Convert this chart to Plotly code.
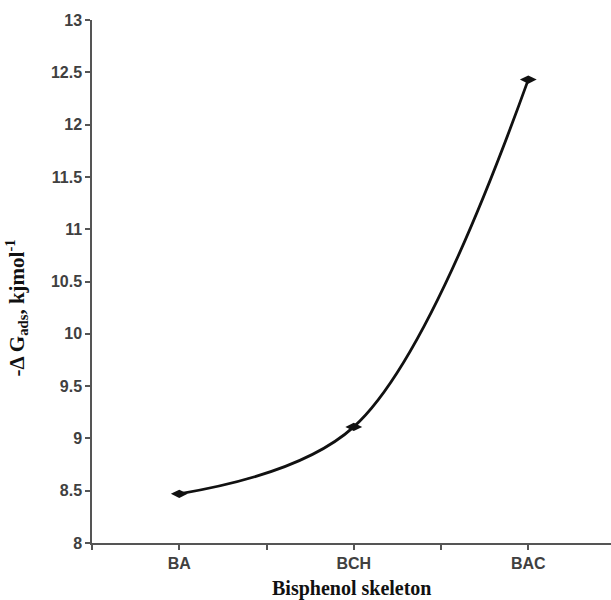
import plotly.graph_objects as go

categories = ["BA", "BCH", "BAC"]
values = [8.47, 9.11, 12.43]
y_ticks = [8, 8.5, 9, 9.5, 10, 10.5, 11, 11.5, 12, 12.5, 13]

xpos = list(range(len(categories)))

fig = go.Figure()
fig.add_trace(go.Scatter(
    x=xpos, y=values, mode="lines+markers",
    line=dict(color="#111111", width=2.8, shape="spline", smoothing=1.0),
    marker=dict(symbol="diamond-wide", size=12, color="#111111"),
    showlegend=False,
))

tick_font = dict(family="Liberation Sans, Arial, sans-serif", size=16, color="#404040", weight="bold")
fig.update_layout(
    width=611, height=600,
    margin=dict(l=92, r=0, t=20, b=57),
    paper_bgcolor="white", plot_bgcolor="white",
    xaxis=dict(
        range=[-0.5, 2.474], tickvals=xpos, ticktext=categories,
        showline=True, linecolor="#555555", linewidth=1.5,
        ticks="outside", ticklen=5, tickcolor="#555555", tickwidth=1.5,
        showgrid=False, zeroline=False, tickfont=tick_font,
        minor=dict(tick0=0.5, dtick=1, ticks="outside", ticklen=5, tickcolor="#555555", tickwidth=1.5, showgrid=False),
    ),
    yaxis=dict(
        range=[8, 13], tickvals=y_ticks, ticktext=[f"{v:g}" for v in y_ticks],
        showline=True, linecolor="#555555", linewidth=1.5,
        ticks="outside", ticklen=5, tickcolor="#555555", tickwidth=1.5,
        showgrid=False, zeroline=False, tickfont=tick_font,
    ),
    annotations=[
        dict(text="<b>Bisphenol skeleton</b>", xref="paper", yref="paper", x=0.5, y=-0.087,
             xanchor="center", yanchor="middle", showarrow=False,
             font=dict(family="Liberation Serif, Times New Roman, serif", size=20, color="#111111")),
        dict(text="<b>-Δ G<sub>ads</sub>, kjmol<sup>-1</sup></b>", xref="paper", yref="paper",
             x=-0.145, y=0.45, xanchor="center", yanchor="middle", textangle=-90, showarrow=False,
             font=dict(family="Liberation Serif, Times New Roman, serif", size=21, color="#111111")),
    ],
)

fig.write_html("out.html")
